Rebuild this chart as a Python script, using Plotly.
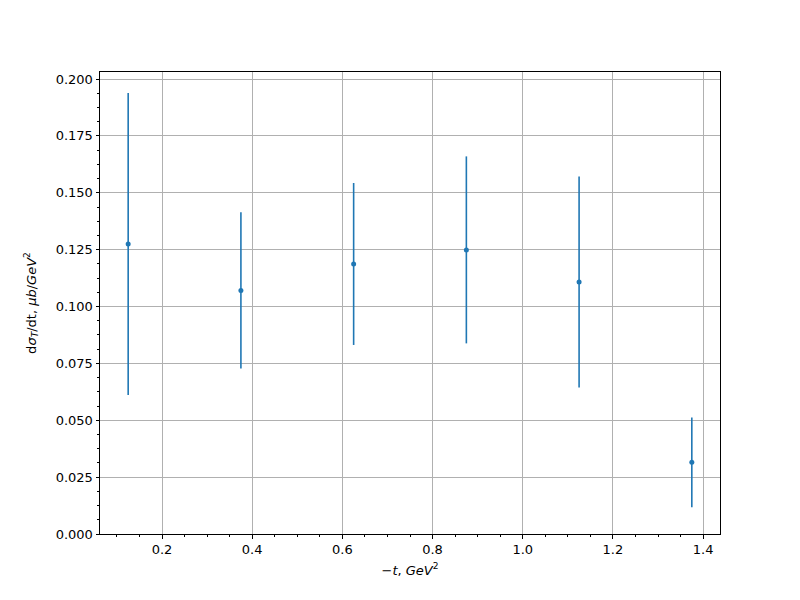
import plotly.graph_objects as go

t_vals = [0.125, 0.375, 0.625, 0.875, 1.125, 1.375]
dsigma = [0.1275, 0.1071, 0.1187, 0.1249, 0.1108, 0.0315]
dsigma_err = [0.0664, 0.0343, 0.0356, 0.0411, 0.0464, 0.0197]

color = "#1f77b4"
font = "DejaVu Sans, sans-serif"

fig = go.Figure()
fig.add_trace(go.Scatter(
    x=t_vals, y=dsigma, mode="markers",
    marker=dict(color=color, size=5),
    error_y=dict(type="data", array=dsigma_err, visible=True,
                 color=color, thickness=1.6, width=0),
    showlegend=False,
))

axis_common = dict(
    showline=True, linecolor="black", linewidth=1, mirror=True,
    ticks="outside", ticklen=3.5, tickwidth=0.8, tickcolor="black",
    showgrid=True, gridcolor="#b0b0b0", gridwidth=0.8,
    zeroline=False,
    tickfont=dict(family=font, size=13, color="black"),
)

fig.update_xaxes(
    range=[0.0625, 1.4375], tick0=0, dtick=0.2, tickformat=".1f",
    minor=dict(ticks="outside", ticklen=2, tickwidth=0.6, tickcolor="black",
               dtick=0.05, tick0=0, showgrid=False),
    title=dict(text="<i>−t</i>, <i>GeV</i><sup>2</sup>",
               font=dict(family=font, size=13, color="black"), standoff=9),
    **axis_common,
)
fig.update_yaxes(
    range=[0, 0.2031], tick0=0, dtick=0.025, tickformat=".3f",
    minor=dict(ticks="outside", ticklen=2, tickwidth=0.6, tickcolor="black",
               dtick=0.00625, tick0=0, showgrid=False),
    title=dict(text="d<i>σ</i><sub><i>T</i></sub>/dt, <i>μb</i>/<i>GeV</i><sup>2</sup>",
               font=dict(family=font, size=13, color="black"), standoff=16),
    **axis_common,
)

fig.update_layout(
    width=800, height=600, autosize=False,
    margin=dict(l=92, r=88, t=64, b=74),
    plot_bgcolor="white", paper_bgcolor="white",
    font=dict(family=font, size=13, color="black"),
)

fig.write_html("out.html")
